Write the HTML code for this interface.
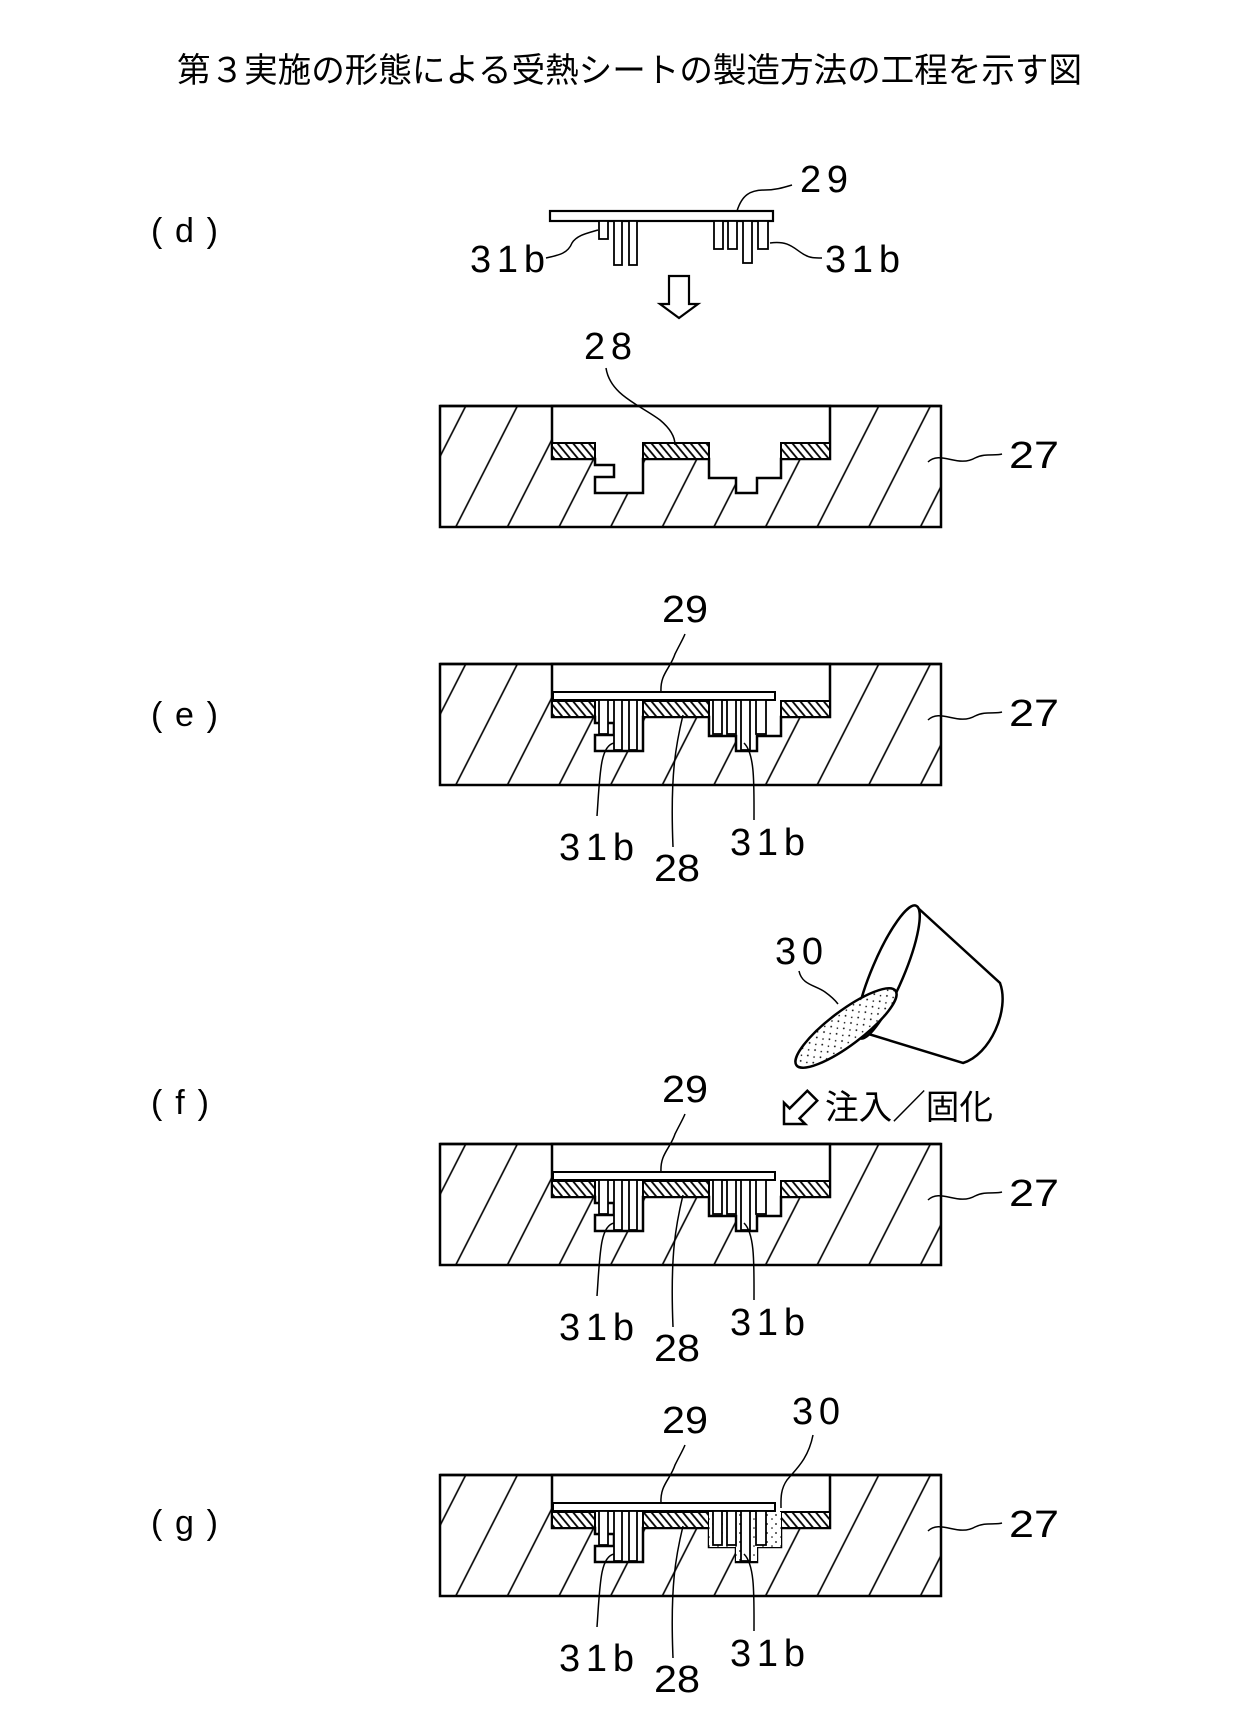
<!DOCTYPE html>
<html><head><meta charset="utf-8"><style>
html,body{margin:0;padding:0;background:#fff;}
svg{display:block;}
text{font-family:"Liberation Sans","Noto Sans CJK JP",sans-serif;fill:#000;}
</style></head><body>
<svg width="1244" height="1732" viewBox="0 0 1244 1732" xmlns="http://www.w3.org/2000/svg">
<defs>
<pattern id="hb" patternUnits="userSpaceOnUse" width="46" height="20" patternTransform="rotate(27)">
<rect width="46" height="20" fill="#fff"/><line x1="1" y1="0" x2="1" y2="20" stroke="#000" stroke-width="1.6"/></pattern>
<pattern id="hs" patternUnits="userSpaceOnUse" width="6" height="10" patternTransform="rotate(-40)">
<rect width="6" height="10" fill="#fff"/><line x1="1" y1="0" x2="1" y2="10" stroke="#000" stroke-width="1.8"/></pattern>
<pattern id="dots" patternUnits="userSpaceOnUse" width="9" height="9">
<rect width="9" height="9" fill="#fff"/><circle cx="2" cy="3" r="0.9" fill="#000"/><circle cx="7" cy="7" r="0.8" fill="#000"/></pattern>
<g id="mold">
<rect x="440" y="0" width="501" height="121" fill="url(#hb)" stroke="#000" stroke-width="2.5"/>
<path d="M552,0 L830,0 L830,53 L781,53 L781,72 L757,72 L757,87 L736,87 L736,72 L709,72 L709,53 L643,53 L643,87 L595,87 L595,71 L614,71 L614,59 L595,59 L595,53 L552,53 Z" fill="#fff" stroke="#000" stroke-width="2.5"/>
<line x1="440" y1="0" x2="941" y2="0" stroke="#000" stroke-width="2.5"/>
<rect x="552" y="37" width="43" height="16" fill="url(#hs)" stroke="#000" stroke-width="2"/>
<rect x="643" y="37" width="66" height="16" fill="url(#hs)" stroke="#000" stroke-width="2"/>
<rect x="781" y="37" width="49" height="16" fill="url(#hs)" stroke="#000" stroke-width="2"/>
<path d="M928,56 C940,44 958,62 975,52 C985,47 995,50 1002,48" fill="none" stroke="#000" stroke-width="1.5"/>
<text x="1009" y="62" font-size="38" textLength="50" lengthAdjust="spacingAndGlyphs">27</text>
</g>
<g id="sheet">
<rect x="553" y="28" width="222" height="8" fill="#fff" stroke="#000" stroke-width="2"/>
<g fill="#fff" stroke="#000" stroke-width="1.8">
<rect x="599" y="36" width="9" height="34"/><rect x="614" y="36" width="8" height="50"/><rect x="629" y="36" width="8" height="50"/>
<rect x="713" y="36" width="9" height="34"/><rect x="727" y="36" width="9" height="34"/><rect x="741" y="36" width="9" height="50"/><rect x="756" y="36" width="10" height="34"/>
</g>
</g>
<g id="labs">
<path d="M661,28 C660,10 670,5 675,-10 C680,-20 683,-25 685,-30" fill="none" stroke="#000" stroke-width="1.5"/>
<text x="662" y="-42" font-size="38" textLength="46" lengthAdjust="spacingAndGlyphs">29</text>
<path d="M614,79 C600,82 600,110 597,152" fill="none" stroke="#000" stroke-width="1.5"/>
<path d="M683,51 C676,80 670,110 673,183" fill="none" stroke="#000" stroke-width="1.5"/>
<path d="M744,79 C755,90 754,120 754,156" fill="none" stroke="#000" stroke-width="1.5"/>
<text x="559" y="196" font-size="38" textLength="75" lengthAdjust="spacing">31b</text>
<text x="654" y="217" font-size="38" textLength="46" lengthAdjust="spacingAndGlyphs">28</text>
<text x="730" y="191" font-size="38" textLength="75" lengthAdjust="spacing">31b</text>
</g>
</defs>

<text x="177" y="82" font-size="34" textLength="905" lengthAdjust="spacingAndGlyphs">第３実施の形態による受熱シートの製造方法の工程を示す図</text>

<text x="151" y="242" font-size="34" textLength="67" lengthAdjust="spacing">(d)</text>
<text x="151" y="726" font-size="34" textLength="67" lengthAdjust="spacing">(e)</text>
<text x="151" y="1114" font-size="34" textLength="58" lengthAdjust="spacing">(f)</text>
<text x="151" y="1534" font-size="34" textLength="67" lengthAdjust="spacing">(g)</text>

<!-- (d) -->
<rect x="550" y="211" width="223" height="10" fill="#fff" stroke="#000" stroke-width="2.2"/>
<g fill="#fff" stroke="#000" stroke-width="1.8">
<rect x="599" y="221" width="9" height="18"/><rect x="614" y="221" width="8" height="44"/><rect x="629" y="221" width="8" height="44"/>
<rect x="714" y="221" width="9" height="28"/><rect x="728" y="221" width="9" height="28"/><rect x="743" y="221" width="9" height="42"/><rect x="758" y="221" width="10" height="28"/>
</g>
<path d="M737,211 C742,195 750,190 765,190 C775,190 782,188 792,185" fill="none" stroke="#000" stroke-width="1.5"/>
<text x="800" y="192" font-size="38" textLength="48" lengthAdjust="spacing">29</text>
<path d="M546,258 C560,255 568,253 572,243 C577,235 588,233 598,230" fill="none" stroke="#000" stroke-width="1.5"/>
<text x="470" y="272" font-size="38" textLength="75" lengthAdjust="spacing">31b</text>
<path d="M770,243 C790,240 795,250 805,255 C810,258 815,258 822,258" fill="none" stroke="#000" stroke-width="1.5"/>
<text x="825" y="272" font-size="38" textLength="75" lengthAdjust="spacing">31b</text>
<polygon points="669,276 689,276 689,304 698,304 679,318 660,304 669,304" fill="#fff" stroke="#000" stroke-width="2.2"/>
<text x="584" y="359" font-size="38" textLength="48" lengthAdjust="spacing">28</text>
<use href="#mold" transform="translate(0,406)"/>
<path d="M606,368 C610,395 640,405 660,420 C672,430 675,438 675,445" fill="none" stroke="#000" stroke-width="1.5"/>

<!-- (e) -->
<use href="#mold" transform="translate(0,664)"/>
<use href="#sheet" transform="translate(0,664)"/>
<use href="#labs" transform="translate(0,664)"/>

<!-- (f) -->
<use href="#mold" transform="translate(0,1144)"/>
<use href="#sheet" transform="translate(0,1144)"/>
<use href="#labs" transform="translate(0,1144)"/>
<!-- cup -->
<path d="M918,908 L1000,983 C1010,1010 990,1055 963,1063 L862,1032" fill="#fff" stroke="#000" stroke-width="2.5"/>
<ellipse cx="888" cy="972" rx="72" ry="16" transform="rotate(113 888 972)" fill="#fff" stroke="#000" stroke-width="2.5"/>
<ellipse cx="846" cy="1028" rx="62" ry="17" transform="rotate(143 846 1028)" fill="url(#dots)" stroke="#000" stroke-width="2.5"/>
<text x="775" y="964" font-size="38" textLength="48" lengthAdjust="spacing">30</text>
<path d="M799,971 C802,985 815,985 825,992 C832,997 835,1000 838,1004" fill="none" stroke="#000" stroke-width="1.5"/>
<polygon points="-7,-40 7,-40 7,-15 15,-15 0,0 -15,-15 -7,-15" transform="translate(784,1124) rotate(45)" fill="#fff" stroke="#000" stroke-width="2.5"/>
<text x="825" y="1119" font-size="34" textLength="168" lengthAdjust="spacingAndGlyphs">注入／固化</text>

<!-- (g) -->
<use href="#mold" transform="translate(0,1475)"/>
<rect x="709" y="1512" width="72" height="35" fill="url(#dots)"/>
<rect x="736" y="1546" width="21" height="15" fill="url(#dots)"/>
<use href="#sheet" transform="translate(0,1475)"/>
<use href="#labs" transform="translate(0,1475)"/>
<text x="792" y="1424" font-size="38" textLength="48" lengthAdjust="spacing">30</text>
<path d="M813,1435 C808,1460 795,1470 787,1480 C780,1490 781,1500 781,1508" fill="none" stroke="#000" stroke-width="1.5"/>
</svg>
</body></html>
